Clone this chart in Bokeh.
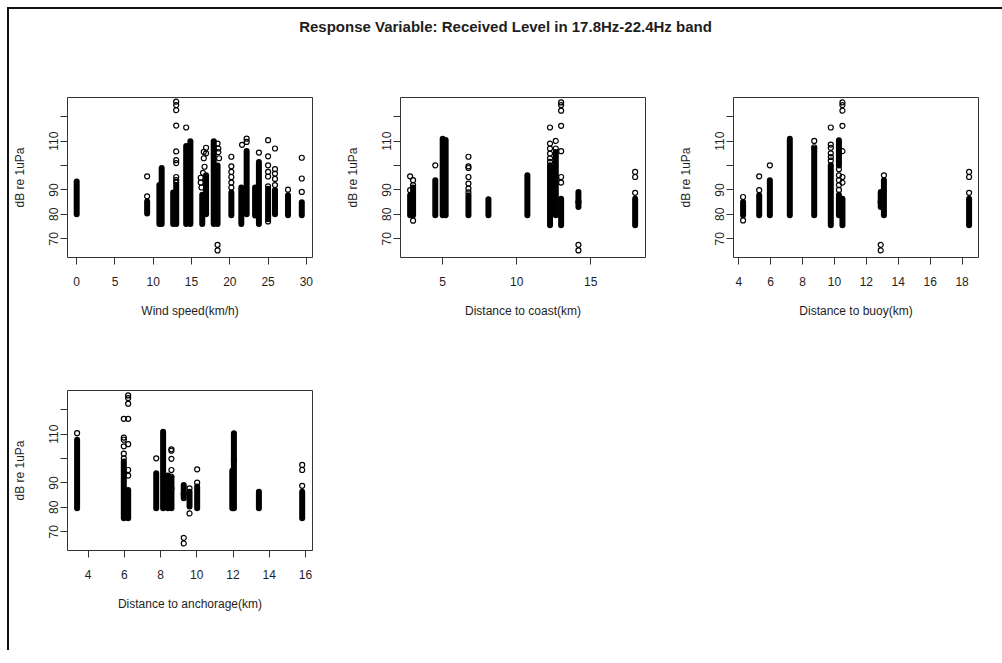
from bokeh.plotting import figure
from bokeh.layouts import column, row
from bokeh.models import Div
from bokeh.embed import file_html
from bokeh.resources import INLINE

# ---------------- data ----------------
# Dense stacks of observations are stored as (x, low, high) ranges,
# isolated observations as (x, y) points.  Values in dB re 1uPa.

# Wind speed (km/h)
wind_col_x = [0.0, 9.2, 10.8, 11.1, 12.6, 13.0, 14.3, 14.85, 16.4, 16.9, 17.9, 18.4,
              20.2, 21.5, 22.2, 23.3, 23.8, 25.0, 25.9, 27.6, 29.4]
wind_col_lo = [80.0, 80.3, 76.0, 76.0, 76.0, 76.0, 76.0, 76.0, 76.0, 80.0, 76.0, 76.0,
               79.6, 76.0, 80.0, 79.5, 76.0, 78.0, 80.0, 79.6, 79.6]
wind_col_hi = [93.5, 85.3, 92.0, 99.0, 89.0, 92.0, 108.0, 110.0, 88.0, 96.0, 110.0, 100.0,
               89.0, 91.0, 106.0, 91.0, 101.5, 90.5, 90.0, 87.8, 85.0]
wind_pt_x = [9.2, 9.2,
             13.0, 13.0, 13.0, 13.0, 13.0, 13.0, 13.0, 13.0, 13.0, 13.0,
             14.3,
             16.2, 16.2, 16.3, 16.6, 16.6, 16.9, 16.9, 16.7, 16.5,
             18.4, 18.5, 18.5, 18.6, 18.4, 18.4,
             20.2, 20.2, 20.2, 20.2, 20.2, 20.2,
             22.2, 22.2, 21.6,
             23.8,
             25.0, 25.0, 25.0, 25.0, 25.0, 25.0, 25.0,
             25.9, 25.9, 25.9, 25.9, 25.9,
             27.6,
             29.4, 29.4, 29.4]
wind_pt_y = [87.4, 95.6,
             126.2, 124.8, 122.7, 116.4, 105.8, 102.2, 101.0, 95.3, 94.0, 93.0,
             115.6,
             95.0, 93.0, 91.0, 105.6, 103.0, 107.3, 105.0, 99.5, 97.0,
             109.0, 107.0, 105.5, 103.0, 67.5, 65.2,
             103.6, 99.7, 97.4, 95.3, 93.0, 91.0,
             111.0, 109.7, 108.5,
             105.3,
             110.4, 103.8, 100.1, 97.4, 95.5, 91.5, 77.1,
             107.0, 98.5, 96.7, 94.5, 92.0,
             90.1,
             103.2, 94.7, 89.2]

# Distance to coast (km)
coast_col_x = [2.8, 3.0, 4.5, 5.0, 5.2, 6.74, 8.09, 10.72, 12.25, 12.64, 13.0, 14.17, 18.0]
coast_col_lo = [79.6, 79.6, 79.6, 79.6, 79.6, 79.6, 79.6, 79.6, 75.5, 79.6, 75.5, 83.0, 75.5]
coast_col_hi = [87.8, 91.0, 94.0, 111.0, 110.5, 87.8, 86.2, 96.0, 100.1, 105.6, 86.4, 89.2, 86.4]
coast_pt_x = [2.8, 2.8, 3.0, 3.0, 3.0,
              4.5,
              6.74, 6.74, 6.74, 6.74, 6.74, 6.74, 6.74,
              12.25, 12.25, 12.25, 12.25, 12.25, 12.25,
              12.64, 12.64,
              13.0, 13.0, 13.0, 13.0, 13.0, 13.0, 13.0,
              14.17, 14.17, 14.17,
              18.0, 18.0, 18.0]
coast_pt_y = [95.6, 89.9, 94.0, 92.0, 77.4,
              100.1,
              103.6, 99.7, 99.0, 95.3, 92.6, 90.5, 89.0,
              115.6, 109.0, 107.0, 104.9, 103.0, 101.5,
              110.1, 107.0,
              125.9, 124.8, 122.5, 116.3, 105.9, 95.3, 93.0,
              85.0, 67.5, 65.2,
              97.4, 95.3, 88.8]

# Distance to buoy (km)
buoy_col_x = [4.27, 5.28, 5.95, 7.2, 8.73, 9.77, 10.28, 10.28, 10.5, 12.9, 13.1, 18.44]
buoy_col_lo = [79.6, 79.6, 79.6, 79.6, 79.6, 75.5, 100.0, 79.6, 75.5, 83.0, 79.6, 75.5]
buoy_col_hi = [85.1, 87.8, 94.0, 111.0, 107.0, 100.1, 110.4, 88.0, 86.4, 89.2, 94.0, 86.4]
buoy_pt_x = [4.27, 4.27,
             5.28, 5.28,
             5.95,
             8.73, 8.73,
             9.77, 9.77, 9.77, 9.77, 9.77, 9.77,
             10.28, 10.28, 10.28, 10.28, 10.28,
             10.5, 10.5, 10.5, 10.5, 10.5, 10.5, 10.5,
             12.9, 12.9, 12.9,
             13.1,
             18.44, 18.44, 18.44]
buoy_pt_y = [87.1, 77.5,
             95.6, 89.9,
             100.1,
             110.1, 107.5,
             115.6, 108.6, 107.3, 105.0, 103.5, 102.0,
             98.5, 96.0, 94.0, 92.0, 90.0,
             125.9, 124.8, 122.5, 116.3, 105.9, 95.3, 93.0,
             67.5, 65.2, 85.0,
             96.0,
             97.4, 95.3, 88.8]

# Distance to anchorage (km)
anch_col_x = [3.39, 5.97, 6.21, 7.76, 8.14, 8.4, 8.6, 9.28, 9.6, 10.02, 11.96, 12.05, 13.43, 15.82]
anch_col_lo = [79.6, 75.5, 75.5, 79.6, 79.6, 79.6, 79.6, 83.7, 80.3, 79.6, 79.6, 79.6, 79.6, 75.5]
anch_col_hi = [107.7, 98.8, 87.1, 94.0, 111.0, 93.0, 92.0, 89.2, 86.4, 88.5, 95.0, 110.4, 86.4, 86.4]
anch_pt_x = [3.39,
             5.97, 5.97, 5.97, 5.97, 5.97, 5.97,
             6.21, 6.21, 6.21, 6.21, 6.21, 6.21, 6.21,
             7.76,
             8.6, 8.6, 8.6, 8.6, 8.6, 8.6,
             9.28, 9.28, 9.28,
             9.6, 9.6,
             10.02, 10.02,
             12.05,
             15.82, 15.82, 15.82]
anch_pt_y = [110.4,
             116.3, 108.6, 107.7, 105.0, 102.0, 100.1,
             125.9, 124.8, 122.5, 116.3, 105.9, 95.3, 93.0,
             100.1,
             103.8, 103.2, 99.9, 95.3, 92.6, 87.8,
             67.5, 65.2, 85.5,
             87.8, 77.5,
             95.6, 90.1,
             99.5,
             97.4, 95.3, 88.8]

y_ticks = [70, 80, 90, 100, 110, 120]
y_hidden = {100: "", 120: ""}

TITLE = "Response Variable: Received Level in 17.8Hz-22.4Hz band"
Y_LABEL = "dB re 1uPa"
FONT = "Liberation Sans"
INK = "#1e1e1e"


def panel(cx, clo, chi, px, py, x_range, x_ticks, x_label,
          left, right, top, bottom):
    p = figure(frame_width=245, frame_height=160,
               x_range=x_range, y_range=(62.3, 127.9),
               min_border_left=left, min_border_right=right,
               min_border_top=top, min_border_bottom=bottom,
               output_backend="svg", toolbar_location=None,
               background_fill_color="white", border_fill_color="white")
    p.segment(x0=cx, y0=clo, x1=cx, y1=chi, line_width=6,
              line_cap="round", line_color="black")
    p.scatter(px, py, marker="circle", size=5, fill_color=None,
              line_color="black", line_width=1.2)

    p.grid.visible = False
    p.outline_line_color = "#333333"
    p.outline_line_width = 1

    p.xaxis.ticker = x_ticks
    p.yaxis.ticker = y_ticks
    p.yaxis.major_label_overrides = y_hidden
    p.yaxis.major_label_orientation = "vertical"

    for ax in (p.xaxis[0], p.yaxis[0]):
        ax.axis_line_color = None
        ax.major_tick_line_color = "#333333"
        ax.major_tick_in = 0
        ax.major_tick_out = 7
        ax.minor_tick_line_color = None
        ax.major_label_text_font = FONT
        ax.major_label_text_font_size = "12px"
        ax.major_label_text_color = INK
        ax.axis_label_text_font = FONT
        ax.axis_label_text_font_size = "12px"
        ax.axis_label_text_font_style = "normal"
        ax.axis_label_text_color = INK

    p.xaxis.axis_label = x_label
    p.xaxis.major_label_standoff = 12
    p.xaxis.axis_label_standoff = 15
    p.yaxis.axis_label = Y_LABEL
    p.yaxis.major_label_standoff = 2
    p.yaxis.axis_label_standoff = 20
    return p


p1 = panel(wind_col_x, wind_col_lo, wind_col_hi, wind_pt_x, wind_pt_y,
           (-1.2, 30.8), [0, 5, 10, 15, 20, 25, 30], "Wind speed(km/h)",
           58, 30, 38, 73)
p2 = panel(coast_col_x, coast_col_lo, coast_col_hi, coast_pt_x, coast_pt_y,
           (2.15, 18.7), [5, 10, 15], "Distance to coast(km)",
           58, 30, 38, 73)
p3 = panel(buoy_col_x, buoy_col_lo, buoy_col_hi, buoy_pt_x, buoy_pt_y,
           (3.67, 19.03), [4, 6, 8, 10, 12, 14, 16, 18], "Distance to buoy(km)",
           58, 15, 38, 73)
p4 = panel(anch_col_x, anch_col_lo, anch_col_hi, anch_pt_x, anch_pt_y,
           (2.86, 16.39), [4, 6, 8, 10, 12, 14, 16], "Distance to anchorage(km)",
           58, 30, 60, 100)

title = Div(text=TITLE, width=993, height=50, margin=0,
            styles={"font-family": FONT, "font-size": "15px", "font-weight": "bold",
                    "color": INK, "text-align": "center", "padding-top": "7px",
                    "box-sizing": "border-box"})

page = column(title, row(p1, p2, p3), row(p4),
              margin=(7, 0, 0, 7),
              styles={"border-left": "2px solid #111111",
                      "border-top": "2px solid #111111",
                      "background": "white"})

with open("out.html", "w") as f:
    f.write(file_html(page, INLINE))
